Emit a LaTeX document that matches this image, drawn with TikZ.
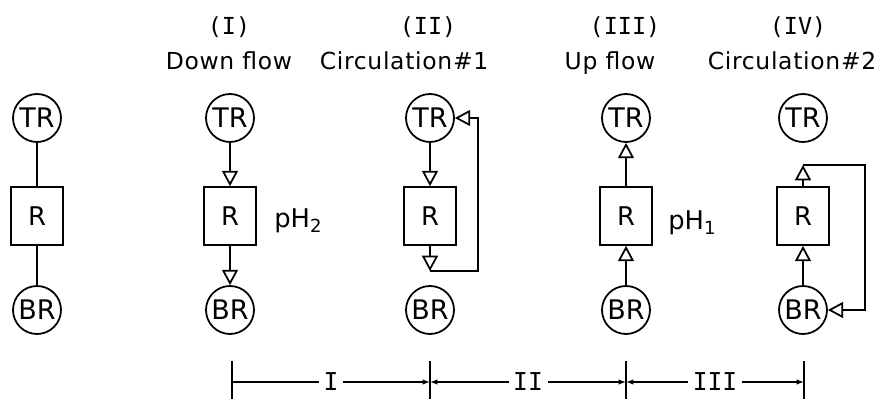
\documentclass[tikz,border=0pt]{standalone}
\usepackage{fontspec}
\setmainfont{DejaVu Sans}
\setmonofont{DejaVu Sans Mono}
\usepackage{tikz}
\usetikzlibrary{positioning,arrows.meta}

\begin{document}
\begin{tikzpicture}[x=0.03cm, y=-0.03cm, line width=1.5pt,
    tank/.style={draw, circle, minimum size=1.44cm, inner sep=0pt, font=\fontsize{23}{23}\selectfont},
    reactor/.style={draw, rectangle, minimum width=1.56cm, minimum height=1.74cm, inner sep=0pt, font=\fontsize{22}{22}\selectfont},
    flow/.style={-{Triangle[open, length=0.46cm, width=0.48cm]}},
    head/.style={anchor=base, font=\fontsize{20}{20}\selectfont\addfontfeatures{LetterSpace=3}},
    numeral/.style={anchor=base, font=\ttfamily\fontsize{20}{20}\selectfont},
    phlabel/.style={font=\fontsize{22}{22}\selectfont},
    dimline/.style={line width=1.2pt},
    dimlabel/.style={fill=white, inner xsep=4pt, font=\ttfamily\fontsize{21}{21}\selectfont}]
  \useasboundingbox (0,0) rectangle (885,400);
  % Tanks and reactors
  \foreach \c/\x in {0/37,1/230,2/430,3/626,4/803} {
    \node[tank] (TR\c) at (\x,118) {TR};
    \node[reactor] (R\c) at (\x,216) {R};
    \node[tank] (BR\c) at (\x,310) {BR};
  }
  % Headings
  \node[numeral] (n1) at (229,35) {(I)};
  \node[head] (h1) at (229,70) {Down flow};
  \node[numeral] (n2) at (428,35) {(II)};
  \node[head] (h2) at (404,70) {Circulation\#1};
  \node[numeral] (n3) at (625,35) {(III)};
  \node[head] (h3) at (610,70) {Up flow};
  \node[numeral] (n4) at (798,35) {(IV)};
  \node[head] (h4) at (792,70) {Circulation\#2};
  % No flow
  \draw (TR0) -- (R0) -- (BR0);
  % (I) down flow
  \draw[flow] (TR1) -- (R1);
  \draw[flow] (R1) -- (BR1);
  \node[phlabel, right=0.38cm of R1, yshift=-0.15cm] (ph2) {pH\textsubscript{2}};
  % (II) circulation 1
  \coordinate (c2) at (430,271);
  \coordinate (k2) at (478,271);
  \draw[flow] (TR2) -- (R2);
  \draw[flow] (R2.south) -- (c2);
  \draw[flow] (c2) -- (k2) |- (TR2.east);
  % (III) up flow
  \draw[flow] (BR3) -- (R3);
  \draw[flow] (R3) -- (TR3);
  \node[phlabel, right=0.32cm of R3, yshift=-0.2cm] (ph1) {pH\textsubscript{1}};
  % (IV) circulation 2
  \coordinate (c4) at (803,165);
  \coordinate (k4) at (865,165);
  \draw[flow] (BR4) -- (R4);
  \draw[flow] (R4.north) -- (c4);
  \draw[flow] (c4) -- (k4) |- (BR4.east);
  % Periods
  \foreach \x/\n in {232/t1,430/t2,626/t3,804/t4} {
    \coordinate (\n) at (\x,382);
    \draw[dimline] (\x,361) -- (\x,399);
  }
  \draw[dimline, -{Latex[length=0.22cm]}] (t1) -- node[dimlabel] (pI) {I} (t2);
  \draw[dimline, {Latex[length=0.22cm]}-{Latex[length=0.22cm]}] (t2) -- node[dimlabel] (pII) {II} (t3);
  \draw[dimline, {Latex[length=0.22cm]}-{Latex[length=0.22cm]}] (t3) -- node[dimlabel] (pIII) {III} (t4);
\end{tikzpicture}
\end{document}
